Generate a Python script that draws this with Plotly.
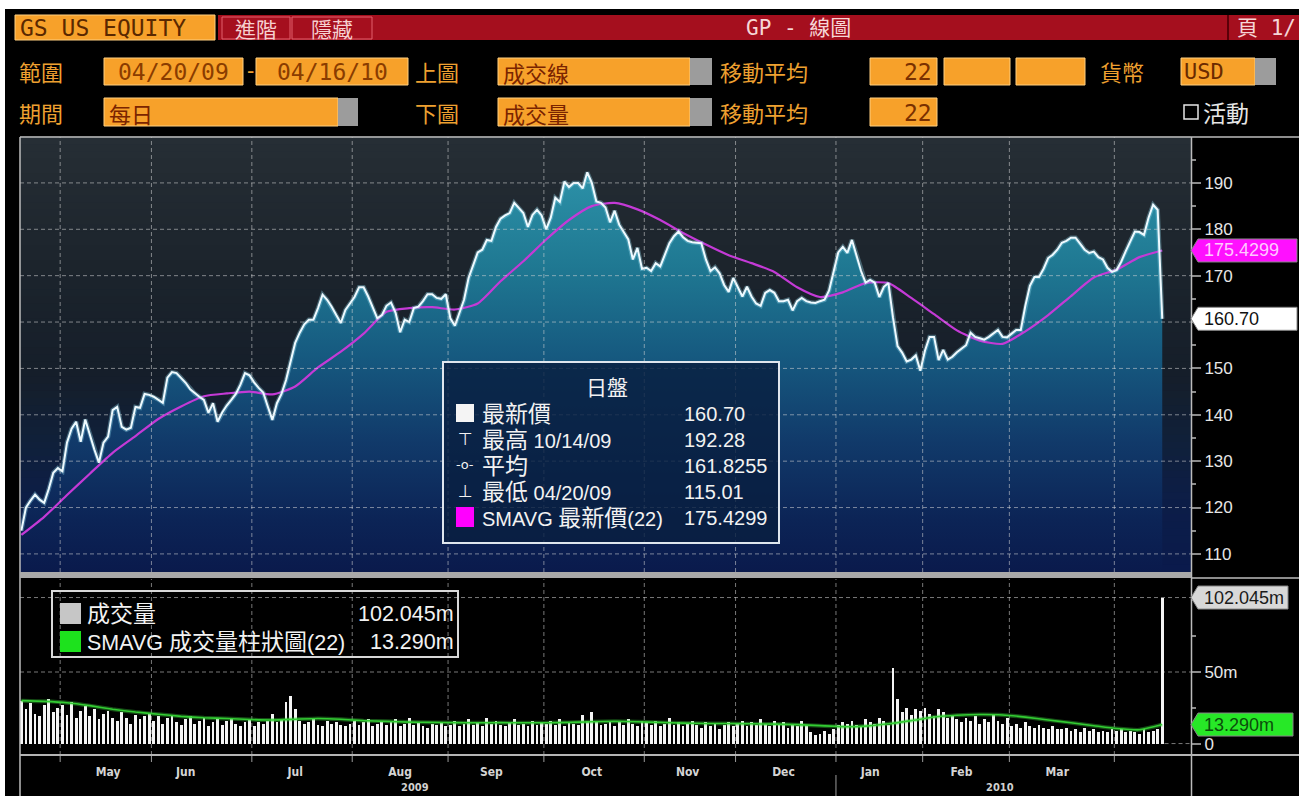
import plotly.graph_objects as go
import pandas as pd

W, H = 1299, 796

# ---------------- data ----------------
market_holidays = ["2009-05-25", "2009-07-03", "2009-09-07", "2009-11-26",
                   "2009-12-25", "2010-01-01", "2010-01-18", "2010-02-15", "2010-04-02"]
trading_days = [d.strftime("%Y-%m-%d") for d in pd.bdate_range("2009-04-20", "2010-04-16")
                if d.strftime("%Y-%m-%d") not in market_holidays]

price_close = [
    115.01, 120.0, 121.5, 122.8, 121.7, 121.0, 124.0, 127.5, 128.5, 127.8,
    134.0, 137.0, 138.5, 134.2, 139.0, 135.7, 132.5, 129.7, 134.0, 135.3,
    141.0, 141.7, 137.4, 136.8, 137.2, 141.7, 141.5, 144.5, 144.3, 143.9,
    143.3, 142.6, 148.0, 149.2, 149.0, 148.0, 146.9, 145.5, 144.6, 143.9,
    143.2, 140.4, 142.5, 138.5, 140.5, 142.0, 143.2, 144.5, 146.5, 149.0,
    148.5, 147.0, 145.8, 144.8, 141.8, 138.9, 142.5, 144.5, 147.5, 151.5,
    155.5, 157.7, 159.5, 160.5, 160.5, 163.0, 165.9, 164.8, 163.3, 161.5,
    159.8, 162.6, 164.0, 165.4, 167.5, 167.5, 165.5, 163.0, 160.8, 161.5,
    163.5, 164.2, 162.0, 157.8, 160.5, 160.0, 163.0, 163.3, 164.5, 166.0,
    166.0, 165.2, 165.0, 166.0, 160.8, 159.2, 162.0, 164.8, 169.5, 172.5,
    175.0, 175.6, 177.7, 177.5, 180.5, 182.3, 183.0, 183.5, 185.7, 184.6,
    183.5, 180.5, 183.1, 184.2, 183.0, 180.0, 182.5, 186.8, 185.9, 190.3,
    189.1, 190.0, 190.0, 188.8, 192.28, 190.0, 186.0, 185.7, 184.7, 181.5,
    184.0, 181.0, 179.5, 177.8, 173.5, 176.0, 171.5, 171.7, 171.0, 172.7,
    172.0, 174.5, 177.0, 178.5, 179.5, 178.3, 177.5, 177.2, 177.1, 177.0,
    173.5, 171.0, 171.8, 170.5, 168.0, 166.5, 169.5, 167.4, 165.5, 167.6,
    165.5, 164.0, 163.5, 166.3, 166.9, 166.3, 164.5, 164.5, 164.8, 162.5,
    164.5, 165.2, 164.5, 164.2, 164.1, 164.5, 164.8, 166.8, 171.0, 175.0,
    176.2, 174.9, 177.7, 174.5, 171.0, 168.5, 169.1, 168.5, 165.4, 167.6,
    168.4, 161.0, 154.8, 153.4, 151.5, 151.9, 152.8, 149.5, 153.8, 156.8,
    156.8, 151.8, 154.0, 151.9, 152.5, 153.5, 154.2, 155.0, 157.7, 156.8,
    156.5, 156.2, 156.8, 157.5, 158.3, 156.8, 156.7, 157.5, 158.3, 158.3,
    163.5, 167.8, 169.7, 169.7, 171.5, 173.8, 174.5, 175.6, 177.1, 177.5,
    178.2, 178.2, 177.0, 175.6, 174.9, 175.2, 174.0, 173.5, 171.7, 170.8,
    171.2, 173.0, 175.3, 177.5, 179.5, 179.4, 178.8, 182.5, 185.3, 184.2,
    160.70,
]

# 22-day moving average of price, read every 5th trading day
price_sma22 = [
    114.1, 118.0, 122.7, 127.3, 131.8, 135.4, 139.1, 141.8, 144.0, 144.6,
    145.0, 144.4, 146.1, 150.2, 153.6, 157.5, 162.2, 163.0, 163.2, 162.7,
    164.0, 168.8, 173.1, 177.8, 182.0, 185.0, 185.7, 184.3, 182.0, 179.2,
    176.7, 174.4, 172.7, 170.8, 167.5, 165.4, 166.4, 168.4, 168.4, 165.2,
    161.7, 158.2, 156.0, 155.3, 158.0, 161.5, 165.6, 169.6, 171.3, 174.0,
    175.4299,
]

volume_m = (
    [30, 24, 28, 21, 19, 27, 31, 22, 25]
    + [27, 20, 29, 18, 23, 26, 19, 24, 17, 21, 23, 18, 16, 22, 18, 14, 20, 17, 19, 21]
    + [16, 19, 14, 18, 20, 15, 13, 17, 19, 14, 16, 18, 12, 15, 17, 13, 16, 18, 14, 12, 15, 17]
    + [12, 15, 14, 16, 21, 15, 17, 29, 33, 24, 16, 14, 15, 17, 13, 12, 16, 14, 15, 13, 12, 14]
    + [16, 13, 15, 17, 12, 14, 16, 13, 15, 17, 12, 14, 18, 13, 15, 12, 11, 14, 13, 15, 12]
    + [13, 16, 12, 14, 17, 13, 15, 12, 18, 14, 16, 13, 12, 15, 17, 13, 14, 12, 16, 13, 15]
    + [14, 16, 13, 17, 12, 15, 14, 13, 20, 16, 22, 15, 13, 14, 16, 12, 15, 13, 17, 14, 12, 16]
    + [15, 13, 16, 12, 14, 18, 13, 15, 12, 14, 16, 13, 11, 15, 12, 14, 10, 13, 15, 12]
    + [14, 16, 12, 15, 13, 17, 14, 12, 16, 13, 15, 11, 14, 12, 16, 13, 8, 6, 7, 9, 7, 10]
    + [13, 15, 14, 16, 13, 12, 17, 15, 14, 18, 16, 13, 53, 31, 22, 25, 20, 24, 23]
    + [25, 21, 19, 24, 22, 18, 20, 17, 15, 18, 16, 19, 14, 17, 15, 20, 16, 14, 18]
    + [12, 14, 11, 15, 12, 11, 13, 11, 10, 12, 10, 10, 11, 9, 10, 8, 11, 9, 10, 8, 9, 8, 10]
    + [9, 10, 8, 9, 8, 7, 10, 8, 9, 10, 102.045]
)

# 22-day moving average of volume, read every 5th trading day
volume_sma22 = [
    30.0, 29.5, 28.5, 26.5, 24.0, 22.0, 20.5, 19.0, 18.0, 17.5,
    16.8, 16.5, 17.0, 17.5, 17.0, 16.0, 15.5, 15.0, 14.8, 14.6,
    14.5, 14.6, 14.5, 14.5, 14.8, 15.2, 15.5, 15.2, 14.8, 14.3,
    14.0, 14.0, 13.8, 13.6, 13.2, 12.5, 11.8, 12.2, 13.8, 16.0,
    18.5, 19.8, 20.3, 20.0, 18.5, 16.5, 14.5, 12.5, 10.5, 9.6,
    13.29,
]
sma_days = trading_days[::5]

price_ticks = [110, 120, 130, 140, 150, 160, 170, 180, 190]
price_tick_text = ["110", "120", "130", "140", "150", "", "170", "180", "190"]
volume_ticks = [0, 50]
volume_tick_text = ["0", "50m"]
month_label_days = ["2009-05-15", "2009-06-10", "2009-07-15", "2009-08-17", "2009-09-15",
                    "2009-10-15", "2009-11-13", "2009-12-15", "2010-01-13", "2010-02-11",
                    "2010-03-15"]
month_labels = ["May", "Jun", "Jul", "Aug", "Sep", "Oct", "Nov", "Dec", "Jan", "Feb", "Mar"]
year_labels = ["2009", "2010"]

stat_last = "160.70"
stat_high = "192.28"
stat_high_date = "10/14/09"
stat_avg = "161.8255"
stat_low = "115.01"
stat_low_date = "04/20/09"
stat_sma = "175.4299"
vol_last_txt = "102.045m"
vol_sma_txt = "13.290m"

# ---------------- layout helpers ----------------
PRICE_RANGE = [106.1, 199.9]
VOL_RANGE = [-8, 115]
XR = [-0.3, 256.3]


def px(x):
    return x / W


def py(y):
    return 1 - y / H


CJK = "Noto Sans CJK TC, Noto Sans CJK SC, sans-serif"
LAT = "Liberation Sans, Arial, sans-serif"
MIX = "Liberation Sans, Noto Sans CJK TC, sans-serif"
MONO = "DejaVu Sans Mono, Noto Sans CJK TC, monospace"
NARROW = "Liberation Sans Narrow, DejaVu Sans Condensed, Arial Narrow, sans-serif"

ORANGE = "#f7a12a"
ORANGE_EDGE = "#ffcf80"
LBL = "#eea030"
RED = "#a50f1e"

shapes = []
annotations = []


def rect(x0, y0, x1, y1, fill, line=None, lw=1):
    shapes.append(dict(type="rect", xref="paper", yref="paper",
                       x0=px(x0), x1=px(x1), y0=py(y1), y1=py(y0),
                       fillcolor=fill, layer="above",
                       line=dict(color=line if line else fill, width=lw if line else 0)))


def hline(x0, x1, y, color, width=1, dash=None):
    shapes.append(dict(type="line", xref="paper", yref="paper", x0=px(x0), x1=px(x1),
                       y0=py(y), y1=py(y), layer="above",
                       line=dict(color=color, width=width, dash=dash)))


def vline(x, y0, y1, color, width=1):
    shapes.append(dict(type="line", xref="paper", yref="paper", x0=px(x), x1=px(x),
                       y0=py(y0), y1=py(y1), layer="above", line=dict(color=color, width=width)))


def text(x, y, s, size=22, color=LBL, family=CJK, anchor="left", align="left"):
    annotations.append(dict(xref="paper", yref="paper", x=px(x), y=py(y), text=s,
                            showarrow=False, xanchor=anchor, yanchor="middle", borderpad=0,
                            align=align, font=dict(size=size, color=color, family=family)))


def hexrgb(h):
    h = h.lstrip("#")
    return tuple(int(h[i:i + 2], 16) for i in (0, 2, 4))


def interp(stops, t):
    for (t0, c0), (t1, c1) in zip(stops[:-1], stops[1:]):
        if t0 <= t <= t1:
            f = (t - t0) / (t1 - t0) if t1 > t0 else 0
            a, b = hexrgb(c0), hexrgb(c1)
            return "rgb(%d,%d,%d)" % tuple(round(a[k] + (b[k] - a[k]) * f) for k in range(3))
    return stops[-1][1]


# ---------------- figure ----------------
fig = go.Figure()

# price area (gradient fill)
fig.add_trace(go.Scatter(
    x=trading_days, y=price_close, mode="lines", fill="tozeroy",
    line=dict(width=0, color="rgba(0,0,0,0)"),
    fillgradient=dict(type="vertical", start=PRICE_RANGE[0], stop=PRICE_RANGE[1],
                      colorscale=[[0, "#0a1a4c"], [0.12, "#0c2456"], [0.3, "#113a6a"],
                                  [0.5, "#165a80"], [0.7, "#1f7892"], [0.9, "#2b8fa6"],
                                  [1, "#3198ae"]]),
    hoverinfo="skip", xaxis="x", yaxis="y"))
# moving average
fig.add_trace(go.Scatter(x=sma_days, y=price_sma22, mode="lines",
                         line=dict(color="#c43ad6", width=2.2, shape="spline", smoothing=0.6),
                         xaxis="x", yaxis="y"))
# price line glow + line
fig.add_trace(go.Scatter(x=trading_days, y=price_close, mode="lines",
                         line=dict(color="rgba(150,220,240,0.35)", width=4.5),
                         xaxis="x", yaxis="y"))
fig.add_trace(go.Scatter(x=trading_days, y=price_close, mode="lines",
                         line=dict(color="#eefaff", width=2), xaxis="x", yaxis="y"))

# volume bars + moving average
fig.add_trace(go.Bar(x=trading_days, y=volume_m, width=0.62,
                     marker=dict(color="#f5f5f5", line=dict(width=0)),
                     xaxis="x2", yaxis="y2"))
fig.add_trace(go.Scatter(x=sma_days, y=volume_sma22, mode="lines",
                         line=dict(color="rgba(60,220,60,0.35)", width=4, shape="spline", smoothing=0.5),
                         xaxis="x2", yaxis="y2"))
fig.add_trace(go.Scatter(x=sma_days, y=volume_sma22, mode="lines",
                         line=dict(color="#33cc33", width=1.6, shape="spline", smoothing=0.5),
                         xaxis="x2", yaxis="y2"))

XD = [px(20), px(1191)]

# background gradient of price panel (bands)
bg_stops = [(0.0, "#0a1a4c"), (0.15, "#0c1d48"), (0.3, "#10203a"), (0.45, "#151e2a"),
            (0.7, "#1c242c"), (1.0, "#262e35")]
NB = 60
for k in range(NB):
    t0, t1 = k / NB, (k + 1) / NB
    shapes.append(dict(type="rect", xref="x domain", yref="y domain", x0=0, x1=1,
                       y0=t0, y1=t1 + 0.002, layer="below",
                       fillcolor=interp(bg_stops, (t0 + t1) / 2), line=dict(width=0)))

# month boundaries (between trading days)
month_bounds = [i - 0.5 for i in range(1, len(trading_days))
                if trading_days[i][:7] != trading_days[i - 1][:7]]
GRID = "rgba(215,215,215,0.55)"
DASH = "4px,3px"
for v in price_ticks:
    shapes.append(dict(type="line", xref="x domain", yref="y", x0=0, x1=1, y0=v, y1=v,
                       layer="above", line=dict(color=GRID, width=1, dash=DASH)))
for b in month_bounds:
    shapes.append(dict(type="line", xref="x", yref="y domain", x0=b, x1=b, y0=0, y1=1,
                       layer="above", line=dict(color=GRID, width=1, dash=DASH)))
    shapes.append(dict(type="line", xref="x2", yref="y2 domain", x0=b, x1=b, y0=0, y1=1,
                       layer="below", line=dict(color="rgba(200,200,200,0.6)", width=1, dash=DASH)))
    shapes.append(dict(type="line", xref="x2", yref="paper", x0=b, x1=b, y0=py(756), y1=py(762),
                       layer="above", line=dict(color="#9a9a9a", width=1)))
for v in [volume_ticks[1], volume_m[-1]]:
    shapes.append(dict(type="line", xref="x2 domain", yref="y2", x0=0, x1=1, y0=v, y1=v,
                       layer="below", line=dict(color="rgba(200,200,200,0.6)", width=1, dash=DASH)))
shapes.append(dict(type="line", xref="x2", yref="y2", x0=len(trading_days) - 0.5, x1=XR[1],
                   y0=0, y1=0, layer="above",
                   line=dict(color="rgba(200,200,200,0.6)", width=1, dash=DASH)))

# year separator
year_bound = [b for b in month_bounds if trading_days[int(b + 0.5)][:4] == "2010"][0]
shapes.append(dict(type="line", xref="x2", yref="paper", x0=year_bound, x1=year_bound,
                   y0=py(775), y1=0, layer="above", line=dict(color="#9a9a9a", width=1)))

# frame lines
rect(0, 0, 1299, 9, "#ffffff")
rect(0, 0, 5, 796, "#ffffff")
hline(20, 1299, 137, "#bcbcbc", 1.5)
vline(20, 137, 796, "#bcbcbc", 1.5)
vline(1191.5, 137, 796, "#bcbcbc", 1.5)
rect(20, 572, 1191, 578, "#a9a9a9")
hline(1191, 1299, 578, "#bcbcbc", 1.5)
hline(20, 1299, 755, "#b4b4b4", 2)

# ---------------- header ----------------
# row 1
rect(15, 15, 215, 40, ORANGE, ORANGE_EDGE)
text(19, 28, "GS US EQUITY", 23, "#5a2800", "DejaVu Sans Mono, monospace")
rect(218, 15, 1299, 40, RED)
rect(222, 17, 290, 39, RED, "#e2606c")
text(256, 28, "進階", 21, "#f6d0d0", CJK, "center")
rect(292, 17, 372, 39, RED, "#e2606c")
text(332, 28, "隱藏", 21, "#f6d0d0", CJK, "center")
text(798, 28, "GP - 線圖", 21, "#f6d6d6", MONO, "center")
vline(1228, 15, 40, "#5a0008", 2)
text(1236, 28, "頁 1/", 21, "#f6d6d6", MONO, "left")

# row 2
text(18, 71, "範圍", 22)
rect(104, 58, 243, 85, ORANGE, ORANGE_EDGE)
text(173, 72, "04/20/09", 23, "#8a3c00", "DejaVu Sans Mono, monospace", "center")
text(250, 71, "-", 22, LBL, LAT, "center")
rect(256, 58, 408, 85, ORANGE, ORANGE_EDGE)
text(332, 72, "04/16/10", 23, "#8a3c00", "DejaVu Sans Mono, monospace", "center")
text(414, 71, "上圖", 22)
rect(498, 58, 690, 85, ORANGE, ORANGE_EDGE)
rect(690, 58, 712, 85, "#9c9c9c")
text(502, 72, "成交線", 22, "#7a2400", CJK)
text(719, 71, "移動平均", 22)
rect(870, 58, 937, 85, ORANGE, ORANGE_EDGE)
text(933, 72, "22", 23, "#7a3000", "DejaVu Sans Mono, monospace", "right")
rect(944, 58, 1010, 85, ORANGE, ORANGE_EDGE)
rect(1016, 58, 1085, 85, ORANGE, ORANGE_EDGE)
text(1099, 71, "貨幣", 22)
rect(1181, 58, 1255, 85, ORANGE, ORANGE_EDGE)
rect(1255, 58, 1276, 85, "#9c9c9c")
text(1183, 72, "USD", 22, "#6a2a00", "DejaVu Sans Mono, monospace")

# row 3
text(18, 112, "期間", 22)
rect(104, 98, 338, 126, ORANGE, ORANGE_EDGE)
rect(338, 98, 358, 126, "#9c9c9c")
text(108, 113, "每日", 22, "#7a2400", CJK)
text(414, 112, "下圖", 22)
rect(498, 98, 690, 126, ORANGE, ORANGE_EDGE)
rect(690, 98, 712, 126, "#9c9c9c")
text(502, 113, "成交量", 22, "#7a2400", CJK)
text(719, 112, "移動平均", 22)
rect(870, 98, 937, 126, ORANGE, ORANGE_EDGE)
text(933, 113, "22", 23, "#7a3000", "DejaVu Sans Mono, monospace", "right")
rect(1184, 105, 1198, 119, "rgba(0,0,0,0)", "#e6e6e6", 1.5)
text(1202, 112, "活動", 23, "#e6e6e6", CJK)

# ---------------- price legend box ----------------
rect(443, 362, 779, 543, "rgba(8,30,64,0.82)", "#dfe6ee", 2)
WT = "#f2f2f2"
text(607, 386, "日盤", 21, WT, CJK, "center")
rows = [413, 439, 465, 491, 517]


def cj(s):
    return '<span style="font-size:23px">%s</span>' % s


label_lines = [cj("最新價"), cj("最高") + " " + stat_high_date, cj("平均"),
               cj("最低") + " " + stat_low_date, "SMAVG " + cj("最新價") + "(22)"]
value_lines = [stat_last, stat_high, stat_avg, stat_low, stat_sma]
text(481, 466, "<br>".join(label_lines), 20, WT, MIX)
text(683, 466, "<br>".join(value_lines), 20, WT, LAT)
rect(456, rows[0] - 9, 474, rows[0] + 9, "#f4f4f4")
text(465, rows[1], "⊤", 17, WT, "DejaVu Sans", "center")
text(465, rows[2], "-ο-", 13, WT, "DejaVu Sans", "center")
text(465, rows[3], "⊥", 17, WT, "DejaVu Sans", "center")
rect(456, rows[4] - 10, 474, rows[4] + 10, "#ff00ff")

# ---------------- volume legend box ----------------
rect(52, 591, 458, 657, "rgba(0,0,0,0)", "#d8d8d8", 2)
rect(60, 603, 81, 624, "#c6c6c6")
rect(60, 631, 81, 652, "#1de21d")
vol_labels = ['<span style="font-size:23px">成交量</span>',
              'SMAVG <span style="font-size:23px">成交量柱狀圖</span>(22)']
text(86, 628, "<br>".join(vol_labels), 21.5, WT, MIX)
text(455, 628, "<br>".join([vol_last_txt, vol_sma_txt]), 21.5, WT, LAT, "right", "right")


# ---------------- right-side value tags ----------------
def tag(yref, value, label, fill, txtcolor, width):
    shapes.append(dict(type="path", xref="paper", yref=yref, xsizemode="pixel", ysizemode="pixel",
                       xanchor=px(1191), yanchor=value,
                       path="M 0 0 L 7 -11.5 L %d -11.5 L %d 11.5 L 7 11.5 Z" % (width, width),
                       fillcolor=fill, line=dict(color="#888888", width=1), layer="above"))
    annotations.append(dict(xref="paper", yref=yref, x=px(1202), y=value, text=label,
                            showarrow=False, xanchor="left", yanchor="middle",
                            font=dict(size=18, color=txtcolor, family=LAT)))


tag("y", float(stat_sma), stat_sma, "#ff10ff", "#ffc8ff", 106)
tag("y", float(stat_last), stat_last, "#ffffff", "#111111", 106)
tag("y2", volume_m[-1], vol_last_txt, "#d8d8d8", "#1a1a1a", 97)
tag("y2", volume_sma22[-1], vol_sma_txt, "#27e827", "#0b4d0b", 102)

# year labels
for yx, ylab in zip([415, 1000], year_labels):
    annotations.append(dict(xref="paper", yref="paper", x=px(yx), y=py(787),
                            text="<b>%s</b>" % ylab, showarrow=False,
                            xanchor="center", yanchor="middle",
                            font=dict(size=11, color="#d0d0d0", family=NARROW)))

fig.update_layout(
    width=W, height=H, margin=dict(l=0, r=0, t=0, b=0),
    paper_bgcolor="#000000", plot_bgcolor="#000000",
    showlegend=False, hovermode=False, bargap=0,
    xaxis=dict(domain=XD, type="category", range=XR, anchor="y", showticklabels=False,
               showgrid=False, zeroline=False, showline=False, ticks=""),
    yaxis=dict(domain=[py(572), py(137)], range=PRICE_RANGE, anchor="x", side="right",
               tickmode="array", tickvals=price_ticks, ticktext=price_tick_text,
               ticks="outside", ticklen=9, tickwidth=2,
               tickcolor="#8c8c8c", showgrid=False, zeroline=False, showline=False,
               tickfont=dict(family=LAT, size=17, color="#e6e6e6"),
               minor=dict(dtick=5, tick0=105, ticks="outside", ticklen=4, tickcolor="#8c8c8c",
                          showgrid=False)),
    xaxis2=dict(domain=XD, type="category", matches="x", anchor="y2",
                tickmode="array", tickvals=month_label_days,
                ticktext=["<b>%s</b>" % m for m in month_labels], ticks="",
                ticklabelstandoff=8,
                tickfont=dict(family=NARROW, size=12, color="#d4d4d4"),
                showgrid=False, zeroline=False, showline=False),
    yaxis2=dict(domain=[py(755), py(579)], range=VOL_RANGE, anchor="x2", side="right",
                tickmode="array", tickvals=volume_ticks, ticktext=volume_tick_text,
                ticks="outside", ticklen=9, tickwidth=2, tickcolor="#8c8c8c",
                showgrid=False, zeroline=False, showline=False,
                tickfont=dict(family=LAT, size=17, color="#e6e6e6"),
                minor=dict(dtick=25, ticks="outside", ticklen=4, tickcolor="#8c8c8c", showgrid=False)),
    shapes=shapes, annotations=annotations,
)

fig.write_html("out.html", config={"displayModeBar": False},
               post_script="document.body.style.margin='0px';document.body.style.overflow='hidden';")
